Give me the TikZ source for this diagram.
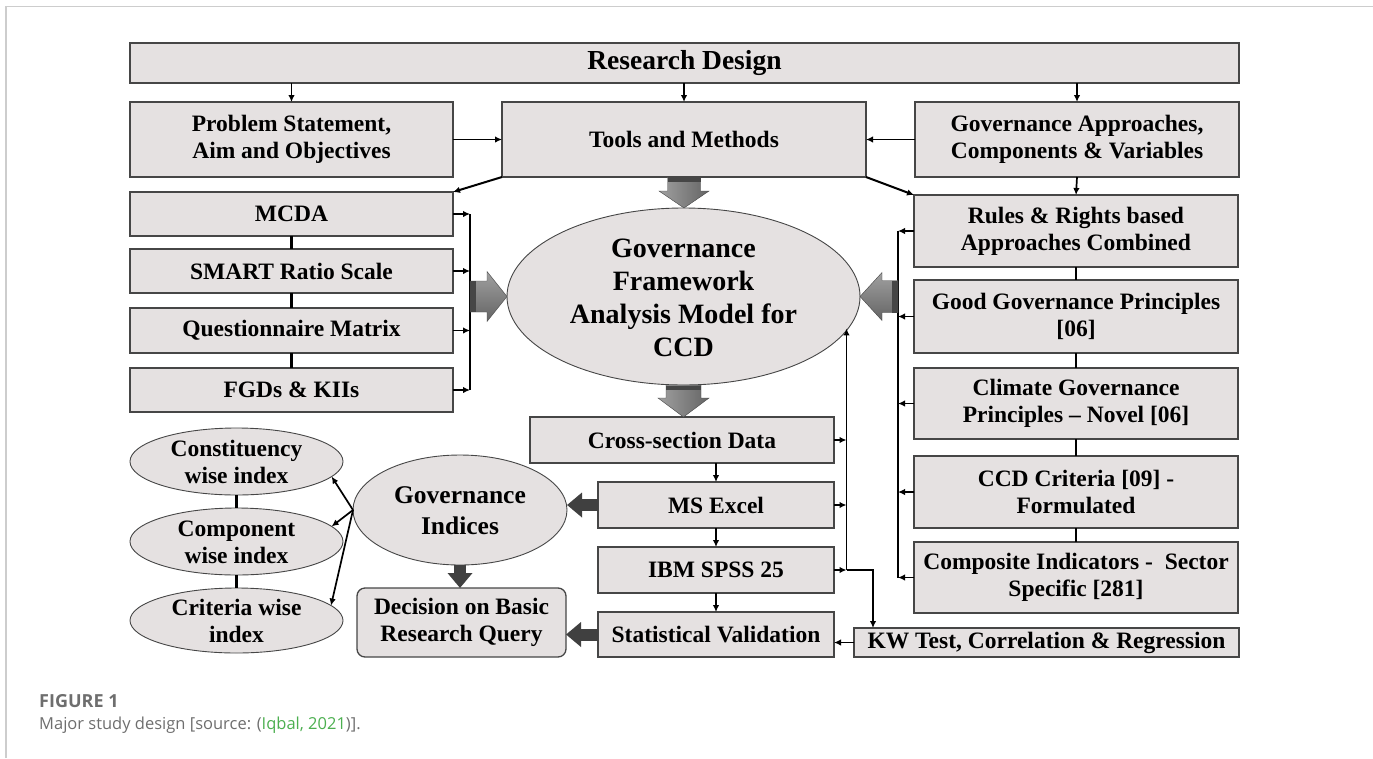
\documentclass[tikz,border=0pt]{standalone}
\usepackage{fontspec}
\setmainfont{Liberation Serif}
\newfontfamily\capfont{Open Sans}
\usetikzlibrary{arrows.meta,calc,shapes.geometric}
\definecolor{boxfill}{RGB}{229,225,225}
\definecolor{boxline}{RGB}{70,70,70}
\definecolor{darkarrow}{RGB}{64,64,64}
\definecolor{blkA}{RGB}{160,160,160}
\definecolor{blkB}{RGB}{100,100,100}
\definecolor{blkDark}{RGB}{70,70,70}
\definecolor{capgray}{RGB}{110,110,110}
\definecolor{capgreen}{RGB}{76,175,80}
\definecolor{framegray}{RGB}{205,205,205}
\begin{document}
\begin{tikzpicture}[x=1pt,y=-1pt,
  box/.style={draw=boxline, fill=boxfill, line width=1.3pt, inner sep=0pt, outer sep=0pt, align=center, font=\fontsize{23.5}{27}\selectfont\bfseries},
  ell/.style={ellipse, draw=boxline, fill=boxfill, line width=0.9pt, inner sep=0pt, outer sep=0pt},
  elltext/.style={align=center, inner sep=0pt},
  arr/.style={line width=1.7pt, -{Latex[length=7pt,width=6.5pt]}},
  plainline/.style={line width=2.2pt},
  darkblk/.style={darkarrow, line width=12pt, -{Triangle[length=15pt,width=24pt]}},
  blkedge/.style={draw=blkDark, line width=0.4pt},
]
\useasboundingbox (0,0) rectangle (1373,758);
\draw[framegray, line width=1.5pt] (6,758) -- (6,6.5) -- (1373,6.5);

% top row
\node[box, minimum width=1109pt, minimum height=40pt, font=\fontsize{27.5}{32}\selectfont\bfseries] (RD) at (684.5,63) {Research Design};
\node[box, minimum width=323pt, minimum height=75pt] (PS) at (291.5,139.5) {Problem Statement,\\Aim and Objectives};
\node[box, minimum width=364pt, minimum height=75pt] (TM) at (684,139.5) {Tools and Methods};
\node[box, minimum width=324pt, minimum height=75pt] (GA) at (1077,139.5) {Governance Approaches,\\Components \& Variables};

% left column
\node[box, minimum width=323pt, minimum height=44pt] (MCDA) at (291.5,214) {MCDA};
\node[box, minimum width=323pt, minimum height=44pt] (SMART) at (291.5,271) {SMART Ratio Scale};
\node[box, minimum width=323pt, minimum height=45pt] (QM) at (291.5,330.5) {Questionnaire Matrix};
\node[box, minimum width=323pt, minimum height=44pt] (FGD) at (291.5,390) {FGDs \& KIIs};

% right column
\node[box, minimum width=324pt, minimum height=72pt] (RR) at (1076,231) {Rules \& Rights based\\Approaches Combined};
\node[box, minimum width=324pt, minimum height=73pt] (GG) at (1076,316.5) {Good Governance Principles\\{[06]}};
\node[box, minimum width=324pt, minimum height=71pt] (CG) at (1076,403.5) {Climate Governance\\Principles -- Novel [06]};
\node[box, minimum width=324pt, minimum height=72pt] (CCD) at (1076,492) {CCD Criteria [09] -\\Formulated};
\node[box, minimum width=324pt, minimum height=71pt] (CI) at (1076,577.5) {Composite Indicators -\ \ Sector\\Specific [281]};

% centre
\node[ell, minimum width=353pt, minimum height=177pt] (main) at (683.5,296.5) {};
\node[elltext, font=\fontsize{28}{33}\selectfont\bfseries] (mainT) at (683.5,298) {Governance\\Framework\\Analysis Model for\\CCD};
\node[box, minimum width=304pt, minimum height=46pt] (CS) at (682,440) {Cross-section Data};
\node[box, minimum width=236pt, minimum height=46pt] (MSE) at (716,505) {MS Excel};
\node[box, minimum width=236pt, minimum height=46pt] (SPSS) at (716,570) {IBM SPSS 25};
\node[box, minimum width=236pt, minimum height=45pt] (SV) at (716,634.5) {Statistical Validation};
\node[box, minimum width=385pt, minimum height=29pt] (KW) at (1046.5,642.5) {KW Test, Correlation \& Regression};

% indices
\node[ell, minimum width=214pt, minimum height=110pt] (GI) at (460,510) {};
\node[elltext, font=\fontsize{25.5}{31}\selectfont\bfseries] (GIT) at (460,511) {Governance\\Indices};
\node[box, rounded corners=8pt, minimum width=209pt, minimum height=69pt] (DEC) at (461.5,622.5) {Decision on Basic\\Research Query};
\node[ell, minimum width=213pt, minimum height=67pt] (Const) at (236.5,461.5) {};
\node[elltext, font=\fontsize{23.5}{27}\selectfont\bfseries] (ConstT) at (236.5,462) {Constituency\\wise index};
\node[ell, minimum width=213pt, minimum height=67pt] (Comp) at (236.5,541.5) {};
\node[elltext, font=\fontsize{23.5}{27}\selectfont\bfseries] (CompT) at (236.5,542) {Component\\wise index};
\node[ell, minimum width=213pt, minimum height=65pt] (Crit) at (236.5,620.5) {};
\node[elltext, font=\fontsize{23.5}{27}\selectfont\bfseries] (CritT) at (236.5,621) {Criteria wise\\index};

% bus coordinates
\coordinate (lbx) at (470,0);
\coordinate (rbx) at (898,0);
\coordinate (mbx) at (846.5,0);
\coordinate (kwx) at (873,0);

% thin connectors
\draw[arr] (RD.south -| PS) -- (PS.north);
\draw[arr] (RD.south -| TM) -- (TM.north);
\draw[arr] (RD.south -| GA) -- (GA.north);
\draw[arr] (PS.east) -- (TM.west);
\draw[arr] (GA.west) -- (TM.east);
\draw[arr] (GA.south) -- (RR.north);
\draw[arr, line width=2pt] (TM.south west) -- (MCDA.north east);
\draw[arr, line width=2pt] (TM.south east) -- (RR.north west);

\draw[plainline] (MCDA.south) -- (SMART.north);
\draw[plainline] (SMART.south) -- (QM.north);
\draw[plainline] (QM.south) -- (FGD.north);
\draw[plainline] (MCDA.east -| lbx) -- (FGD.east -| lbx);
\foreach \n in {MCDA,SMART,QM,FGD} \draw[arr] (\n.east) -- (\n.east -| lbx);

\draw[plainline] (RR.south) -- (GG.north);
\draw[plainline] (GG.south) -- (CG.north);
\draw[plainline] (CG.south) -- (CCD.north);
\draw[plainline] (CCD.south) -- (CI.north);
\draw[plainline] (RR.west -| rbx) -- (CI.west -| rbx);
\foreach \n in {RR,GG,CG,CCD,CI} \draw[arr] (\n.west) -- (\n.west -| rbx);

\draw[arr] (CS.south -| MSE) -- (MSE.north);
\draw[arr] (MSE.south) -- (SPSS.north);
\draw[arr] (SPSS.south) -- (SV.north);
\foreach \n in {CS,MSE,SPSS} \draw[arr] (\n.east) -- (\n.east -| mbx);
\draw[arr] (SPSS.east -| mbx) -- (mbx |- main.-11.75);
\draw[arr] (SPSS.east -| mbx) -- (SPSS.east -| kwx) -- (kwx |- KW.north);
\draw[arr] (KW.west) -- (KW.west -| SV.east);

\draw[plainline] (Const.south) -- (Comp.north);
\draw[plainline] (Comp.south) -- (Crit.north);
\draw[arr] (GI.west) -- (Const.-9);
\draw[arr] (GI.west) -- (Comp.9);
\draw[arr] (GI.west) -- (Crit.9);

% dark block arrows
\draw[darkblk] (MSE.west) -- (MSE.west -| GI.east);
\draw[darkblk] (SV.west) -- (SV.west -| DEC.east);
\draw[darkblk] (GI.south) -- (GI.south |- DEC.north);

% gray block arrows
\shade[left color=blkA, right color=blkB, blkedge]
  let \p1=(TM.south), \p2=(main.north) in
  (\x1-16.5pt,\y1) -- (\x1+16.5pt,\y1) -- (\x1+16.5pt,\y2+17pt) -- (\x1+25pt,\y2+17pt)
  -- (\x1,\y2) -- (\x1-25pt,\y2+17pt) -- (\x1-16.5pt,\y2+17pt) -- cycle;
\fill[blkDark] let \p1=(TM.south) in (\x1-16.5pt,\y1) rectangle (\x1+16.5pt,\y1-5pt);

\shade[left color=blkA, right color=blkB, blkedge]
  let \p1=(main.south), \p2=(CS.north) in
  (\x1-17.5pt,\y1) -- (\x1+17.5pt,\y1) -- (\x1+17.5pt,\y2+19pt) -- (\x1+25.5pt,\y2+19pt)
  -- (\x1,\y2) -- (\x1-25.5pt,\y2+19pt) -- (\x1-17.5pt,\y2+19pt) -- cycle;
\fill[blkDark] let \p1=(main.south) in (\x1-17.5pt,\y1-1pt) rectangle (\x1+17.5pt,\y1-5pt);

\shade[top color=blkA, bottom color=blkB, blkedge]
  let \p1=(lbx |- main.west), \p2=(main.west) in
  (\x1,\y1+15.5pt) -- (\x2-20pt,\y1+15.5pt) -- (\x2-20pt,\y1+25pt) -- (\x2,\y2)
  -- (\x2-20pt,\y1-25pt) -- (\x2-20pt,\y1-15.5pt) -- (\x1,\y1-15.5pt) -- cycle;
\fill[blkDark] let \p1=(lbx |- main.west) in (\x1,\y1+15.5pt) rectangle (\x1+6pt,\y1-15.5pt);

\shade[top color=blkA, bottom color=blkB, blkedge]
  let \p1=(rbx |- main.east), \p2=(main.east) in
  (\x1,\y1+16pt) -- (\x2+22pt,\y1+16pt) -- (\x2+22pt,\y1+24pt) -- (\x2,\y2)
  -- (\x2+22pt,\y1-24pt) -- (\x2+22pt,\y1-16pt) -- (\x1,\y1-16pt) -- cycle;
\fill[blkDark] let \p1=(rbx |- main.east) in (\x1,\y1+16pt) rectangle (\x1-6pt,\y1-16pt);

% caption
\node[anchor=base west, inner sep=0pt, font=\capfont\bfseries\fontsize{18}{20}\selectfont, text=capgray] (figlbl) at (39,707) {FIGURE 1};
\node[anchor=base west, inner sep=0pt, font=\capfont\fontsize{16.5}{20}\selectfont, text=capgray] (figcap) at (39,729) {Major study design [source: (\textcolor{capgreen}{Iqbal, 2021})].};
\end{tikzpicture}
\end{document}
